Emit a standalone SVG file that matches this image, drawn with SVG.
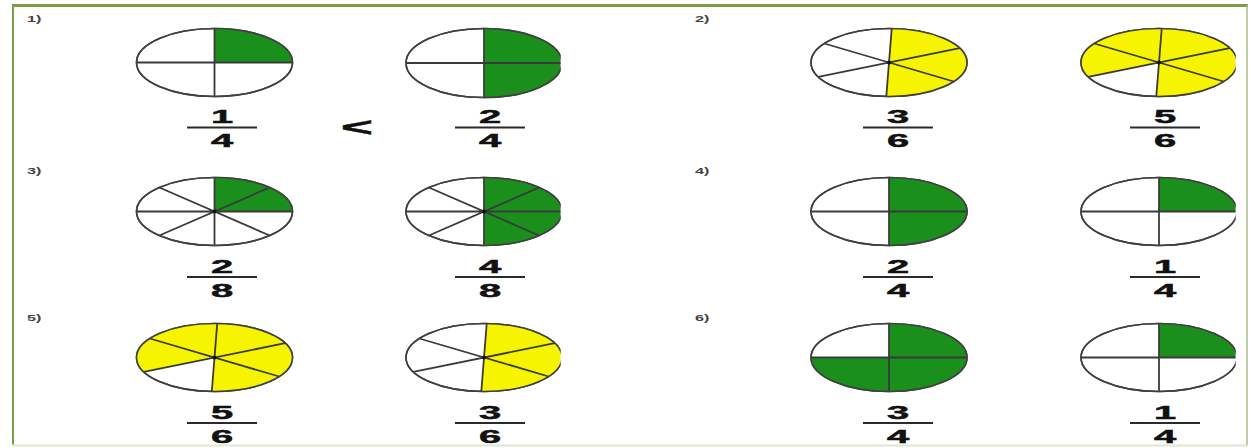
<svg xmlns="http://www.w3.org/2000/svg" width="1251" height="448" viewBox="0 0 1251 448">
<style>
.pie{fill:#ffffff;stroke:#404040;stroke-width:1.6}
.div{fill:none;stroke:#3a3a3a;stroke-width:1.8}
.g{fill:#1b8f1b}
.y{fill:#f7f400}
.dot{fill:#111}
.bar{stroke:#2a2a2a;stroke-width:2}
.num{font-family:"Liberation Sans",Arial,sans-serif;font-weight:bold;font-size:19px;fill:#111;stroke:#111;stroke-width:0.5;text-anchor:middle}
.lbl{font-family:"Liberation Sans",Arial,sans-serif;font-weight:bold;font-size:9px;fill:#444}
</style>
<defs>
<clipPath id="cut" clipPathUnits="userSpaceOnUse"><rect x="-82" y="-40" width="158.5" height="80"/></clipPath>
</defs>
<rect x="0" y="0" width="1251" height="448" fill="#ffffff"/>
<g id="frame">
<line x1="12" y1="5.5" x2="1248" y2="5.5" stroke="#7e9c45" stroke-width="3"/>
<line x1="13" y1="5" x2="13" y2="446" stroke="#7e9c45" stroke-width="2"/>
<line x1="1247" y1="5" x2="1247" y2="446" stroke="#a9bd85" stroke-width="1.5"/>
<line x1="12" y1="445.5" x2="1248" y2="445.5" stroke="#dfe6d3" stroke-width="2"/>
</g>

<!-- Problem 1 -->
<g id="p1">
<text class="lbl" transform="translate(27 22) scale(1.8 1)">1)</text>
<g id="p1a" transform="translate(214.5 62.5)">
<ellipse class="pie" rx="78" ry="34"/>
<path class="g" d="M0,0 L0,-34 A78,34 0 0 1 78,0 Z"/>
<path class="div" d="M-78,0 H78 M0,-34 V34"/>
<ellipse rx="78" ry="34" fill="none" stroke="#404040" stroke-width="1.6"/>
</g>
<g id="p1b" transform="translate(484 63)"><g clip-path="url(#cut)">
<ellipse class="pie" rx="78" ry="34.5"/>
<path class="g" d="M0,-34.5 A78,34.5 0 0 1 0,34.5 Z"/>
<path class="div" d="M-78,0 H78 M0,-34.5 V34.5"/>
<ellipse rx="78" ry="34.5" fill="none" stroke="#404040" stroke-width="1.6"/>
</g></g>
<g id="f1a"><line class="bar" x1="187" y1="127.5" x2="257" y2="127.5"/>
<text class="num" transform="translate(222 123) scale(2.1 1)">1</text>
<text class="num" transform="translate(222 147) scale(2.1 1)">4</text></g>
<text class="num" transform="translate(357 136) scale(2.1 1)" style="font-size:26px">&lt;</text>
<g id="f1b"><line class="bar" x1="455" y1="127.5" x2="525" y2="127.5"/>
<text class="num" transform="translate(490 123) scale(2.1 1)">2</text>
<text class="num" transform="translate(490 147) scale(2.1 1)">4</text></g>
</g>

<!-- Problem 2 -->
<g id="p2">
<text class="lbl" transform="translate(695 22) scale(1.8 1)">2)</text>
<g id="p2a" transform="translate(889 62.5)">
<ellipse class="pie" rx="78" ry="34"/>
<path class="y" d="M0,0 L2.72,-33.98 A78,34 0 0 1 -2.72,33.98 Z"/>
<path class="div" d="M2.72,-33.98 L-2.72,33.98 M-64.67,-19.01 L64.67,19.01 M-70.69,14.37 L70.69,-14.37"/>
<ellipse rx="78" ry="34" fill="none" stroke="#404040" stroke-width="1.6"/>
<circle class="dot" r="2"/>
</g>
<g id="p2b" transform="translate(1159 62.5)"><g clip-path="url(#cut)">
<ellipse class="pie" rx="78" ry="34"/>
<path class="y" d="M0,0 L-70.69,14.37 A78,34 0 1 1 -2.72,33.98 Z"/>
<path class="div" d="M2.72,-33.98 L-2.72,33.98 M-64.67,-19.01 L64.67,19.01 M-70.69,14.37 L70.69,-14.37"/>
<ellipse rx="78" ry="34" fill="none" stroke="#404040" stroke-width="1.6"/>
<circle class="dot" r="2"/>
</g></g>
<g id="f2a"><line class="bar" x1="863" y1="127.5" x2="933" y2="127.5"/>
<text class="num" transform="translate(898 123) scale(2.1 1)">3</text>
<text class="num" transform="translate(898 147) scale(2.1 1)">6</text></g>
<g id="f2b"><line class="bar" x1="1130" y1="127.5" x2="1200" y2="127.5"/>
<text class="num" transform="translate(1165 123) scale(2.1 1)">5</text>
<text class="num" transform="translate(1165 147) scale(2.1 1)">6</text></g>
</g>

<!-- Problem 3 -->
<g id="p3">
<text class="lbl" transform="translate(27 174) scale(1.8 1)">3)</text>
<g id="p3a" transform="translate(214.5 211.5)">
<ellipse class="pie" rx="78" ry="34"/>
<path class="g" d="M0,0 L0,-34 A78,34 0 0 1 78,0 Z"/>
<path class="div" d="M-78,0 H78 M0,-34 V34 M-55.15,-24.04 L55.15,24.04 M-55.15,24.04 L55.15,-24.04"/>
<ellipse rx="78" ry="34" fill="none" stroke="#404040" stroke-width="1.6"/>
<circle class="dot" r="2"/>
</g>
<g id="p3b" transform="translate(484 211.5)"><g clip-path="url(#cut)">
<ellipse class="pie" rx="78" ry="34"/>
<path class="g" d="M0,-34 A78,34 0 0 1 0,34 Z"/>
<path class="div" d="M-78,0 H78 M0,-34 V34 M-55.15,-24.04 L55.15,24.04 M-55.15,24.04 L55.15,-24.04"/>
<ellipse rx="78" ry="34" fill="none" stroke="#404040" stroke-width="1.6"/>
<circle class="dot" r="2"/>
</g></g>
<g id="f3a"><line class="bar" x1="187" y1="277" x2="257" y2="277"/>
<text class="num" transform="translate(222 272.5) scale(2.1 1)">2</text>
<text class="num" transform="translate(222 296.5) scale(2.1 1)">8</text></g>
<g id="f3b"><line class="bar" x1="455" y1="277" x2="525" y2="277"/>
<text class="num" transform="translate(490 272.5) scale(2.1 1)">4</text>
<text class="num" transform="translate(490 296.5) scale(2.1 1)">8</text></g>
</g>

<!-- Problem 4 -->
<g id="p4">
<text class="lbl" transform="translate(695 174) scale(1.8 1)">4)</text>
<g id="p4a" transform="translate(889 211.5)">
<ellipse class="pie" rx="78" ry="34"/>
<path class="g" d="M0,-34 A78,34 0 0 1 0,34 Z"/>
<path class="div" d="M-78,0 H78 M0,-34 V34"/>
<ellipse rx="78" ry="34" fill="none" stroke="#404040" stroke-width="1.6"/>
</g>
<g id="p4b" transform="translate(1159 211.5)"><g clip-path="url(#cut)">
<ellipse class="pie" rx="78" ry="34"/>
<path class="g" d="M0,0 L0,-34 A78,34 0 0 1 78,0 Z"/>
<path class="div" d="M-78,0 H78 M0,-34 V34"/>
<ellipse rx="78" ry="34" fill="none" stroke="#404040" stroke-width="1.6"/>
</g></g>
<g id="f4a"><line class="bar" x1="863" y1="277" x2="933" y2="277"/>
<text class="num" transform="translate(898 272.5) scale(2.1 1)">2</text>
<text class="num" transform="translate(898 296.5) scale(2.1 1)">4</text></g>
<g id="f4b"><line class="bar" x1="1130" y1="277" x2="1200" y2="277"/>
<text class="num" transform="translate(1165 272.5) scale(2.1 1)">1</text>
<text class="num" transform="translate(1165 296.5) scale(2.1 1)">4</text></g>
</g>

<!-- Problem 5 -->
<g id="p5">
<text class="lbl" transform="translate(27 321) scale(1.8 1)">5)</text>
<g id="p5a" transform="translate(214.5 357.5)">
<ellipse class="pie" rx="78" ry="34"/>
<path class="y" d="M0,0 L-70.69,14.37 A78,34 0 1 1 -2.72,33.98 Z"/>
<path class="div" d="M2.72,-33.98 L-2.72,33.98 M-64.67,-19.01 L64.67,19.01 M-70.69,14.37 L70.69,-14.37"/>
<ellipse rx="78" ry="34" fill="none" stroke="#404040" stroke-width="1.6"/>
<circle class="dot" r="2"/>
</g>
<g id="p5b" transform="translate(484 357.5)"><g clip-path="url(#cut)">
<ellipse class="pie" rx="78" ry="34"/>
<path class="y" d="M0,0 L2.72,-33.98 A78,34 0 0 1 -2.72,33.98 Z"/>
<path class="div" d="M2.72,-33.98 L-2.72,33.98 M-64.67,-19.01 L64.67,19.01 M-70.69,14.37 L70.69,-14.37"/>
<ellipse rx="78" ry="34" fill="none" stroke="#404040" stroke-width="1.6"/>
<circle class="dot" r="2"/>
</g></g>
<g id="f5a"><line class="bar" x1="187" y1="423" x2="257" y2="423"/>
<text class="num" transform="translate(222 418.5) scale(2.1 1)">5</text>
<text class="num" transform="translate(222 442.5) scale(2.1 1)">6</text></g>
<g id="f5b"><line class="bar" x1="455" y1="423" x2="525" y2="423"/>
<text class="num" transform="translate(490 418.5) scale(2.1 1)">3</text>
<text class="num" transform="translate(490 442.5) scale(2.1 1)">6</text></g>
</g>

<!-- Problem 6 -->
<g id="p6">
<text class="lbl" transform="translate(695 321) scale(1.8 1)">6)</text>
<g id="p6a" transform="translate(889 357.5)">
<ellipse class="pie" rx="78" ry="34"/>
<path class="g" d="M0,0 L0,-34 A78,34 0 1 1 -78,0 Z"/>
<path class="div" d="M-78,0 H78 M0,-34 V34"/>
<ellipse rx="78" ry="34" fill="none" stroke="#404040" stroke-width="1.6"/>
</g>
<g id="p6b" transform="translate(1159 357.5)"><g clip-path="url(#cut)">
<ellipse class="pie" rx="78" ry="34"/>
<path class="g" d="M0,0 L0,-34 A78,34 0 0 1 78,0 Z"/>
<path class="div" d="M-78,0 H78 M0,-34 V34"/>
<ellipse rx="78" ry="34" fill="none" stroke="#404040" stroke-width="1.6"/>
</g></g>
<g id="f6a"><line class="bar" x1="863" y1="423" x2="933" y2="423"/>
<text class="num" transform="translate(898 418.5) scale(2.1 1)">3</text>
<text class="num" transform="translate(898 442.5) scale(2.1 1)">4</text></g>
<g id="f6b"><line class="bar" x1="1130" y1="423" x2="1200" y2="423"/>
<text class="num" transform="translate(1165 418.5) scale(2.1 1)">1</text>
<text class="num" transform="translate(1165 442.5) scale(2.1 1)">4</text></g>
</g>
<g id="connectors"/>
</svg>
